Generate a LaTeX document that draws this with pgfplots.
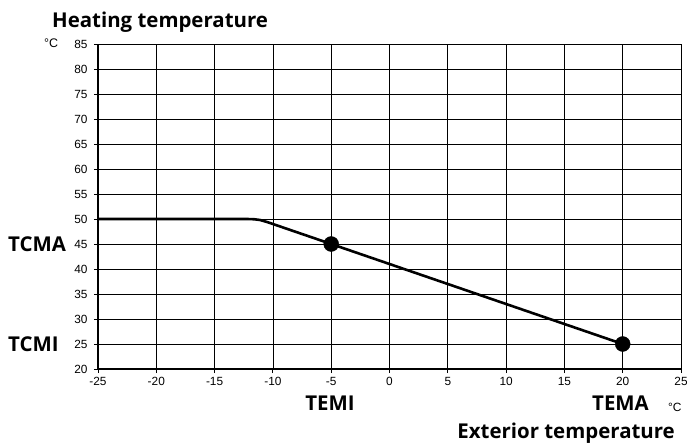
\documentclass[border=0pt]{standalone}
\usepackage{fontspec}
\setmainfont{Liberation Sans}
\newfontfamily\lblfont{Open Sans}
\usepackage{pgfplots}
\pgfplotsset{compat=1.18}

\newcommand{\biglbl}[1]{{\lblfont\bfseries\fontsize{20.5}{24}\selectfont #1}}

\begin{document}
\begin{tikzpicture}
\path[use as bounding box] (-98bp,-74bp) rectangle (589bp,369bp);
\begin{axis}[
    at={(0,0)}, anchor=south west,
    scale only axis,
    width=583bp, height=325bp,
    xmin=-25, xmax=25,
    ymin=20, ymax=85,
    xtick={-25,-20,...,25},
    ytick={20,25,...,85},
    grid=major,
    grid style={black, line width=0.8bp},
    axis line style={draw=none},
    tick align=outside,
    major tick length=4bp,
    tick style={black, line width=0.9bp},
    xtick pos=bottom, ytick pos=left,
    ticklabel style={font=\fontsize{11.9}{13}\selectfont},
    /pgf/number format/assume math mode=true,
    xticklabel style={yshift=-1bp},
    yticklabel style={xshift=-3bp},
    clip=false,
]
% top and right border lines come from the grid; left/bottom axes thick
\addplot[black, line width=0.8bp] coordinates {(-25,85) (25,85) (25,20)};
\addplot[black, line width=2bp] coordinates {(-25,85) (-25,20) (25,20)};
% heating curve
\addplot[black, line width=2.6bp, line join=round] coordinates {
    (-25,50) (-12.2,50) (-11.6,49.95) (-11.1,49.8) (-10.5,49.4) (-5,45) (20,25)
};
\addplot[only marks, mark=*, mark size=7.5bp, black] coordinates {(-5,45) (20,25)};
\end{axis}
\node[anchor=base west, inner sep=0] at (-46bp,341bp) {\biglbl{Heating temperature}};
\node[anchor=base west, inner sep=0, font=\fontsize{12.5}{13}\selectfont] at (-54bp,321bp) {°C};
\node[anchor=base west, inner sep=0] at (-90bp,117bp) {\biglbl{TCMA}};
\node[anchor=base west, inner sep=0] at (-90bp,18bp) {\biglbl{TCMI}};
\node[anchor=base, inner sep=0] at (232bp,-41bp) {\biglbl{TEMI}};
\node[anchor=base, inner sep=0] at (522.5bp,-41bp) {\biglbl{TEMA}};
\node[anchor=base west, inner sep=0, font=\fontsize{12}{13}\selectfont] at (570bp,-42bp) {°C};
\node[anchor=base east, inner sep=0] at (577bp,-69bp) {\biglbl{Exterior temperature}};
\end{tikzpicture}
\end{document}
